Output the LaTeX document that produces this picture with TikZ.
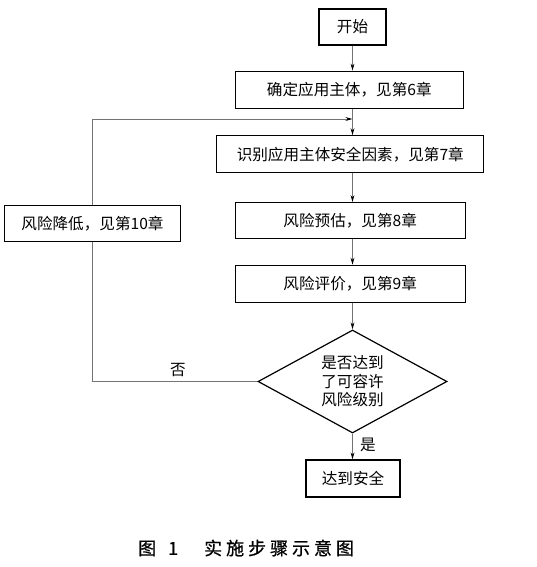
\documentclass[tikz,border=0pt]{standalone}
\usepackage{fontspec}
\setmainfont{Noto Sans CJK SC}
\usetikzlibrary{shapes.geometric,arrows.meta}
\begin{document}
\begin{tikzpicture}[x=1pt,y=-1pt,
  box/.style={draw=black, line width=1.2pt, rectangle, inner sep=0pt,
    font=\fontsize{15.6pt}{18pt}\selectfont},
  conn/.style={draw=black!55, line width=0.8pt},
  arr/.style={conn, -{Stealth[length=7pt,width=3.8pt,black]}},
  lbl/.style={font=\fontsize{15.6pt}{18pt}\selectfont, inner sep=0pt}]
\useasboundingbox[fill=white] (0,0) rectangle (536,567);
\node[box, minimum width=67pt, minimum height=36pt] (start) at (352.5,27) {开始};
\node[box, minimum width=228pt, minimum height=37pt] (b2) at (349.3,89.7) {确定应用主体，见第6章};
\node[box, minimum width=267pt, minimum height=37pt] (b3) at (350.3,154.3) {识别应用主体安全因素，见第7章};
\node[box, minimum width=176pt, minimum height=36pt] (b4) at (92.5,223.7) {风险降低，见第10章};
\node[box, minimum width=230pt, minimum height=36pt] (b5) at (350.2,220.7) {风险预估，见第8章};
\node[box, minimum width=230pt, minimum height=37pt] (b6) at (350.2,283.8) {风险评价，见第9章};
\node[diamond, draw=black, line width=1.2pt, minimum width=189pt, minimum height=103pt,
  inner sep=0pt, shape aspect=1.83, align=center,
  font=\fontsize{15.6pt}{18.5pt}\selectfont] (dia) at (352.5,381.5) {是否达到\\了可容许\\风险级别};
\node[box, minimum width=94pt, minimum height=37pt] (end) at (353,478.5) {达到安全};
\coordinate (join) at (352.5,119);
\draw[arr] (start.south) -- (start.south |- b2.north);
\draw[conn] (start.south |- b2.south) -- (join);
\draw[arr] (join) -- (start.south |- b3.north);
\draw[arr] (b4.north) |- (join);
\draw[arr] (start.south |- b3.south) -- (start.south |- b5.north);
\draw[arr] (start.south |- b5.south) -- (start.south |- b6.north);
\draw[arr] (start.south |- b6.south) -- (dia.north);
\draw[conn] (dia.west) -| (b4.south);
\draw[arr] (dia.south) -- (dia.south |- end.north);
\node[lbl] (no) at (178,370) {否};
\node[lbl] (yes) at (368,445) {是};
\node[anchor=west, inner sep=0pt, font=\fontsize{18pt}{20pt}\selectfont\addfontfeature{FakeBold=0.7}] (cap) at (138,548)
  {图\hspace{12pt}1\hspace{26pt}{\addfontfeature{LetterSpace=22}实施步骤示意图}};
\end{tikzpicture}
\end{document}
